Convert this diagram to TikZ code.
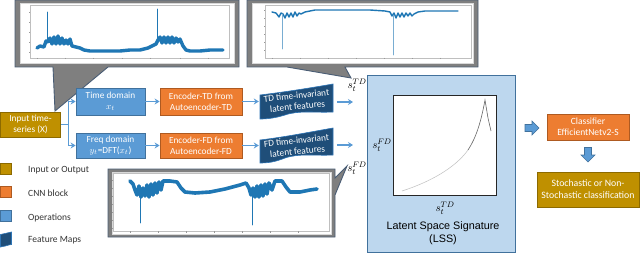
\documentclass[tikz,border=0pt]{standalone}
\usepackage{fontspec}
\setmainfont{Carlito}
\newfontfamily\lssfont{Liberation Sans}
\usetikzlibrary{arrows.meta}
\definecolor{gold}{HTML}{BF9000}
\definecolor{goldedge}{HTML}{8C6A00}
\definecolor{orng}{HTML}{ED7D31}
\definecolor{orngedge}{HTML}{AE5A21}
\definecolor{opblue}{HTML}{5B9BD5}
\definecolor{opedge}{HTML}{41719C}
\definecolor{fmblue}{HTML}{1F4E79}
\definecolor{fmedge}{HTML}{2E75B6}
\definecolor{lssfill}{HTML}{BDD7EE}
\definecolor{lssedge}{HTML}{41719C}
\definecolor{callgray}{HTML}{7F7F7F}
\definecolor{calledge}{HTML}{4A5D75}
\definecolor{sig}{HTML}{1F77B4}
\definecolor{arrowblue}{HTML}{5B9BD5}
\tikzset{
 bx/.style={rectangle, inner sep=0pt, align=center, text=white, line width=0.8pt, font=\fontsize{9.3}{10.8}\selectfont},
 opbox/.style={bx, fill=opblue, draw=opedge},
 cnnbox/.style={bx, fill=orng, draw=orngedge},
 iobox/.style={bx, fill=gold, draw=goldedge},
 fmshape/.style={fill=fmblue, draw=fmedge, line width=0.6pt},
 conn/.style={draw=arrowblue, line width=1.1pt, -{Stealth[length=5pt,width=6pt]}},
 callout/.style={fill=callgray, draw=calledge, line width=0.9pt},
 panel/.style={fill=white, draw=black!15, line width=0.5pt},
 axesframe/.style={draw=black!25, line width=0.4pt},
 sigline/.style={draw=sig, line join=round, line cap=round},
 lab/.style={font=\fontsize{11}{12}\selectfont, inner sep=0pt},
 legtext/.style={anchor=west, font=\fontsize{9.5}{11}\selectfont, text=black!80, inner sep=0pt},
 blockarrow/.style={fill=opblue, draw=opedge, line width=0.6pt},
}
\begin{document}
\begin{tikzpicture}[x=1pt,y=-1pt]
\useasboundingbox (0,0) rectangle (640,254);

% ---------- callouts ----------
\draw[callout] (15,0) -- (239,0) -- (239,67) -- (108,67) -- (55,111) -- (53,67) -- (15,67) -- cycle;
\fill[panel] (20,3) rectangle (234,63);
\draw[axesframe] (30,5) rectangle (229,58);
\foreach \x in {37,65,93,122,150,180,208} \draw[black!40,line width=0.3pt] (\x,58) -- (\x,59.5);
\foreach \y in {12,22,32,42,52} \draw[black!40,line width=0.3pt] (30,\y) -- (28.5,\y);
\draw[sigline, line width=3.4pt] (37,48) -- (40,46) -- (44,47) -- (46,41) -- (48,42) -- (50,38) -- (52,44) -- (54,37) -- (56,44) -- (58,36) -- (60,44) -- (62,38) -- (64,44) -- (66,40) -- (68,44) -- (70,39) -- (72,46) -- (76,47) -- (80,48) -- (84,50) -- (90,51) -- (100,51) -- (110,51) -- (120,51) -- (130,50) -- (140,50) -- (148,48) -- (152,46) -- (156,44) -- (158,40) -- (160,37) -- (162,43) -- (164,37) -- (166,43) -- (168,37) -- (170,43) -- (172,37) -- (174,43) -- (176,38) -- (178,42) -- (180,39) -- (183,46) -- (186,50) -- (190,51) -- (200,51) -- (210,50) -- (223,50);
\draw[sigline, line width=0.9pt] (47,42) -- (47,12) (157,42) -- (157,9);

\draw[callout] (247,0) -- (478,0) -- (478,67) -- (345,67) -- (351,78) -- (287,67) -- (247,67) -- cycle;
\fill[panel] (252,3) rectangle (473,63);
\draw[axesframe] (265,5) rectangle (471,58);
\foreach \x in {272,300,328,356,384,412,440} \draw[black!40,line width=0.3pt] (\x,58) -- (\x,59.5);
\foreach \y in {10,18,26,34,42,50} \draw[black!40,line width=0.3pt] (265,\y) -- (263.5,\y);
\draw[sigline, line width=1.4pt] (272,12) -- (276,13) -- (279,17) -- (281,13) -- (283,14) -- (285,18) -- (287,13) -- (289,17) -- (291,13) -- (293,17) -- (295,12) -- (297,16) -- (299,13) -- (301,14) -- (305,12) -- (315,10) -- (330,10) -- (350,10) -- (370,10) -- (385,11) -- (390,12) -- (392,16) -- (394,13) -- (396,18) -- (398,13) -- (400,17) -- (402,13) -- (404,17) -- (406,13) -- (408,16) -- (410,13) -- (412,16) -- (414,14) -- (418,12) -- (425,11) -- (440,11) -- (458,11);
\draw[sigline, draw=sig!60, line width=0.8pt] (282,14) -- (282,49) (393,15) -- (393,55);

\draw[callout] (108,169) -- (335,169) -- (335,178) -- (347,166) -- (335,195) -- (335,237) -- (108,237) -- cycle;
\fill[panel] (112,172) rectangle (331,234);
\draw[axesframe] (113,173) rectangle (329,231);
\foreach \x in {130,158,186,214,242,270,298} \draw[black!40,line width=0.3pt] (\x,231) -- (\x,232.5);
\foreach \y in {180,188,196,204,212,220,228} \draw[black!40,line width=0.3pt] (113,\y) -- (111.5,\y);
\draw[sigline, line width=3.6pt] (130,181) -- (133,184) -- (135,190) -- (137,195) -- (139,186) -- (141,197) -- (143,188) -- (145,196) -- (147,185) -- (149,197) -- (151,184) -- (153,195) -- (155,183) -- (157,193) -- (159,182) -- (161,190) -- (163,181) -- (170,181) -- (177,182) -- (181,188) -- (185,192) -- (195,193) -- (210,192) -- (225,189) -- (240,185) -- (246,183) -- (249,188) -- (251,195) -- (253,188) -- (255,197) -- (257,186) -- (259,197) -- (261,185) -- (263,196) -- (265,184) -- (267,194) -- (269,183) -- (272,190) -- (275,181) -- (282,181) -- (286,187) -- (290,192) -- (300,192) -- (310,190) -- (317,189);
\draw[sigline, line width=0.9pt] (140,192) -- (140,223) (252,192) -- (252,225);

% ---------- main flow ----------
\node[iobox, minimum width=60pt, minimum height=25pt] (inp) at (30.5,124.5) {Input time-\\series (X)};
\node[opbox, minimum width=69pt, minimum height=27pt] (tdom) at (110.5,101.5) {Time domain\\$x_t$};
\node[opbox, minimum width=69pt, minimum height=25pt] (fdom) at (110.5,145.5) {Freq domain\\$y_t$=DFT($x_t$)};
\node[cnnbox, minimum width=82pt, minimum height=27pt] (etd) at (201,101.5) {Encoder-TD from\\Autoencoder-TD};
\node[cnnbox, minimum width=82pt, minimum height=25pt] (efd) at (201,145.5) {Encoder-FD from\\Autoencoder-FD};

% feature maps
\draw[fmshape] (260,95) .. controls (285,92) and (310,88) .. (333,84) -- (333,112) .. controls (315,113) and (300,110) .. (285,115) .. controls (275,118) and (268,119) .. (260,119) -- cycle;
\node[inner sep=0pt, minimum width=73pt, minimum height=30pt] (tdf) at (296.5,102) {};
\node[bx, rotate=6] (tdft) at (297,101) {TD time-invariant\\latent features};
\draw[fmshape] (260,140) .. controls (285,137) and (310,132) .. (333,128) -- (333,155) .. controls (315,156) and (300,153) .. (285,158) .. controls (275,162) and (268,163) .. (260,163) -- cycle;
\node[inner sep=0pt, minimum width=73pt, minimum height=32pt] (fdf) at (296.5,146) {};
\node[bx, rotate=6] (fdft) at (297,146) {FD time-invariant\\latent features};

\coordinate (tdend) at (353,102);
\coordinate (fdend) at (353,145);

\draw[conn] (inp.east) -- ++(8,0) |- (tdom.west);
\draw[conn] (inp.east) -- ++(8,0) |- (fdom.west);
\draw[conn] (tdom.east) -- (etd.west);
\draw[conn] (fdom.east) -- (efd.west);
\draw[conn, shorten >=1pt] (etd.east) -- (etd.east -| tdf.west);
\draw[conn, shorten >=1pt] (efd.east) -- (efd.east -| fdf.west);
\draw[conn] (tdf.east |- tdend) ++(4,0) -- (tdend);
\draw[conn] (fdf.east |- fdend) ++(4,0) -- (fdend);

\node[lab] (stdtop) at (357,85) {$s_t^{TD}$};
\node[lab] (sfdbot) at (357,168) {$s_t^{FD}$};

% ---------- LSS ----------
\node[draw=lssedge, fill=lssfill, line width=0.9pt, minimum width=148pt, minimum height=177pt, inner sep=0pt] (lss) at (441,163.5) {};
\node[draw=black!85, fill=white, line width=0.9pt, minimum width=103pt, minimum height=100pt, inner sep=0pt] (lssplot) at (444.5,145) {};
\draw[black!25, line width=0.5pt] (402,191) .. controls (430,182) and (455,168) .. (468,150);
\draw[black!60, line width=0.6pt] (468,150) .. controls (476,138) and (481,122) .. (485,100) -- (488,118) -- (491,131);
\node[lab] (sfdl) at (382,145) {$s_t^{FD}$};
\node[lab] (stdl) at (445,208) {$s_t^{TD}$};
\node[align=center, font=\lssfont\fontsize{10.8}{13.5}\selectfont, inner sep=0pt] (lsst) at (443,233) {Latent Space Signature\\(LSS)};

% ---------- classifier ----------
\draw[blockarrow] (525,124.5) -- (532,124.5) -- (532,121) -- (539,128) -- (532,135) -- (532,131.5) -- (525,131.5) -- cycle;
\node[cnnbox, minimum width=82pt, minimum height=26pt, font=\fontsize{9.5}{11}\selectfont] (cls) at (588,127) {Classifier\\EfficientNetv2-S};
\draw[blockarrow] (584.5,147.5) -- (591.5,147.5) -- (591.5,155) -- (595,155) -- (588,162) -- (581,155) -- (584.5,155) -- cycle;
\node[iobox, minimum width=102pt, minimum height=35pt, font=\fontsize{9.8}{12}\selectfont] (outp) at (588,189.5) {Stochastic or Non-\\Stochastic classification};

% ---------- legend ----------
\node[iobox, minimum width=11pt, minimum height=11pt] (lg1) at (6,169) {};
\node[cnnbox, minimum width=11pt, minimum height=11pt] (lg2) at (6,192) {};
\node[opbox, minimum width=11pt, minimum height=11pt] (lg3) at (6,216) {};
\draw[fmshape] (0.5,234.5) -- (11.5,232) -- (11.5,244.5) .. controls (7,245) and (4,247) .. (0.5,247) -- cycle;
\node[legtext] (lt1) at (28,170) {Input or Output};
\node[legtext] (lt2) at (28,193) {CNN block};
\node[legtext] (lt3) at (28,217.5) {Operations};
\node[legtext] (lt4) at (28,240) {Feature Maps};
\end{tikzpicture}
\end{document}
